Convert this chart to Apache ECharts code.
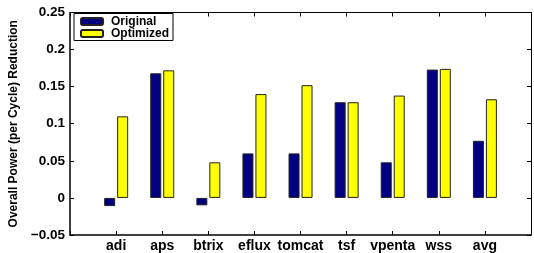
<!DOCTYPE html>
<html>
<head>
  <meta charset="utf-8">
  <title>Overall Power Reduction</title>
  <script src="https://cdn.jsdelivr.net/npm/echarts@6/dist/echarts.min.js"></script>
</head>
<body style="margin: 0; background: #fff">
  <div id="chart" style="width: 534px; height: 253px;"></div>
  <script>
    // benchmarks (empty slots at both ends pad the axis like the original plot)
    var benchmarks = ['adi', 'aps', 'btrix', 'eflux', 'tomcat', 'tsf', 'vpenta', 'wss', 'avg'];
    var original = [-0.011, 0.168, -0.010, 0.060, 0.060, 0.129, 0.048, 0.173, 0.077];
    var optimized = [0.110, 0.172, 0.048, 0.140, 0.152, 0.129, 0.138, 0.174, 0.133];
    var yTicks = { min: -0.05, max: 0.25, step: 0.05 };

    var cats = [''].concat(benchmarks, ['']);
    function pad(arr) { return ['-'].concat(arr, ['-']); }

    var font = 'Liberation Sans, Arial, Helvetica, sans-serif';
    var chart = echarts.init(document.getElementById('chart'));

    var option = {
      backgroundColor: '#fff',
      animation: false,
      grid: { left: 68, width: 467.5, top: 12.5, bottom: 15.5 },
      legend: {
        orient: 'vertical',
        left: 74, top: 13.5,
        backgroundColor: '#fff',
        borderColor: '#000', borderWidth: 1,
        padding: [2, 4, 1, 6],
        itemWidth: 22, itemHeight: 7, itemGap: 0,
        textStyle: { fontFamily: font, fontWeight: 'bold', fontSize: 12, lineHeight: 11, color: '#000', padding: [0, 0, 0, 3] },
        data: ['Original', 'Optimized']
      },
      xAxis: [
        {
          type: 'category', data: cats, boundaryGap: false,
          axisLine: { onZero: false, lineStyle: { color: '#000', width: 1.5 } },
          axisTick: { inside: true, length: 4, interval: 0, lineStyle: { color: '#000' } },
          axisLabel: { interval: 0, margin: 4, color: '#000', fontFamily: font, fontWeight: 'bold', fontSize: 14 }
        },
        {
          type: 'category', data: cats, boundaryGap: false, position: 'top',
          axisLine: { onZero: false, lineStyle: { color: '#000', width: 1 } },
          axisTick: { inside: true, length: 4, interval: 0, lineStyle: { color: '#000' } },
          axisLabel: { show: false }
        }
      ],
      yAxis: [
        {
          type: 'value', min: yTicks.min, max: yTicks.max, interval: yTicks.step,
          name: 'Overall Power (per Cycle) Reduction',
          nameLocation: 'middle', nameGap: 46,
          nameTextStyle: { fontFamily: font, fontWeight: 'bold', fontSize: 12, color: '#000' },
          axisLine: { show: true, lineStyle: { color: '#000', width: 1.5 } },
          axisTick: { show: true, inside: true, length: 4, lineStyle: { color: '#000' } },
          splitLine: { show: false },
          axisLabel: {
            margin: 5, color: '#000', fontFamily: font, fontWeight: 'bold', fontSize: 13.5,
            formatter: function (v) { return String(+v.toFixed(2)).replace('-', '\u2212'); }
          }
        },
        {
          type: 'value', min: yTicks.min, max: yTicks.max, interval: yTicks.step, position: 'right',
          axisLine: { show: true, lineStyle: { color: '#000', width: 1 } },
          axisTick: { show: true, inside: true, length: 4, lineStyle: { color: '#000' } },
          splitLine: { show: false },
          axisLabel: { show: false }
        }
      ],
      series: [
        {
          name: 'Original', type: 'bar', data: pad(original),
          barWidth: 11, barGap: '18%',
          itemStyle: { color: '#000080', borderColor: '#222', borderWidth: 1 }
        },
        {
          name: 'Optimized', type: 'bar', data: pad(optimized),
          barWidth: 11,
          itemStyle: { color: '#ffff00', borderColor: '#222', borderWidth: 1 }
        }
      ]
    };
    chart.setOption(option);
  </script>
</body>
</html>
